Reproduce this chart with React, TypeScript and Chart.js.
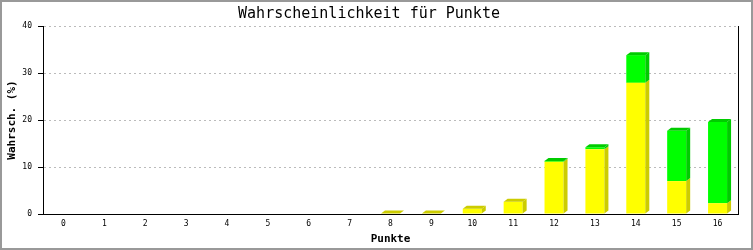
import React, { useEffect, useRef } from "react";
import { Chart, registerables } from "chart.js";

Chart.register(...registerables);

const categories = ["0", "1", "2", "3", "4", "5", "6", "7", "8", "9", "10", "11", "12", "13", "14", "15", "16"];
const yellowValues = [0, 0, 0, 0, 0, 0, 0, 0, 0.1, 0.1, 1.1, 2.6, 11.1, 13.8, 27.9, 7.0, 2.3];
const greenValues = [0, 0, 0, 0, 0, 0, 0, 0, 0, 0, 0, 0, 0.2, 0.4, 5.9, 10.7, 17.3];
const seriesLabels = ["Serie 1", "Serie 2"];
const yMin = 0;
const yMax = 40;
const yStep = 10;

const chartTitle = "Wahrscheinlichkeit für Punkte";
const xTitle = "Punkte";
const yTitle = "Wahrsch. (%)";

const MONO = "'DejaVu Sans Mono', 'Liberation Mono', monospace";

const frontColors = ["#ffff00", "#00ff00"];
const sideColors = ["#cccc00", "#00cc00"];

const depthPlugin = {
  id: "depth3d",
  afterDatasetsDraw(chart: any) {
    const ctx = chart.ctx;
    const dx = 4;
    const dy = 3;
    const metas = chart.data.datasets.map((_: any, k: number) => chart.getDatasetMeta(k));
    const n = chart.data.labels.length;
    ctx.save();
    for (let i = 0; i < n; i++) {
      const vals = chart.data.datasets.map((d: any) => Number(d.data[i]) || 0);
      const total = vals.reduce((a: number, b: number) => a + b, 0);
      if (total <= 0) continue;
      let topIdx = -1;
      metas.forEach((meta: any, k: number) => {
        if (!vals[k]) return;
        const el = meta.data[i];
        const { x, y, base, width } = el.getProps(["x", "y", "base", "width"], true);
        const right = x + width / 2;
        ctx.fillStyle = sideColors[k];
        ctx.beginPath();
        ctx.moveTo(right, base);
        ctx.lineTo(right + dx, base - dy);
        ctx.lineTo(right + dx, y - dy);
        ctx.lineTo(right, y);
        ctx.closePath();
        ctx.fill();
        topIdx = k;
      });
      if (topIdx >= 0) {
        const el = metas[topIdx].data[i];
        const { x, y, width } = el.getProps(["x", "y", "width"], true);
        const left = x - width / 2;
        const right = x + width / 2;
        ctx.fillStyle = sideColors[topIdx];
        ctx.beginPath();
        ctx.moveTo(left, y);
        ctx.lineTo(left + dx, y - dy);
        ctx.lineTo(right + dx, y - dy);
        ctx.lineTo(right, y);
        ctx.closePath();
        ctx.fill();
      }
    }
    ctx.restore();
  },
};

const framePlugin = {
  id: "frame",
  beforeDraw(chart: any) {
    const ctx = chart.ctx;
    ctx.save();
    ctx.fillStyle = "#ffffff";
    ctx.fillRect(0, 0, chart.width, chart.height);
    ctx.restore();
  },
  afterDraw(chart: any) {
    const ctx = chart.ctx;
    const a = chart.chartArea;
    ctx.save();
    ctx.strokeStyle = "#000000";
    ctx.lineWidth = 1;
    ctx.beginPath();
    ctx.moveTo(Math.round(a.right) + 0.5, a.top);
    ctx.lineTo(Math.round(a.right) + 0.5, a.bottom);
    ctx.stroke();
    ctx.strokeStyle = "#999999";
    ctx.lineWidth = 2;
    ctx.strokeRect(1, 1, chart.width - 2, chart.height - 2);
    ctx.restore();
  },
};

export default function App() {
  const canvasRef = useRef<HTMLCanvasElement | null>(null);

  useEffect(() => {
    const canvas = canvasRef.current;
    if (!canvas) return;
    const chart = new Chart(canvas, {
      type: "bar",
      data: {
        labels: categories,
        datasets: [
          {
            label: seriesLabels[0],
            data: yellowValues,
            backgroundColor: frontColors[0],
            borderWidth: 0,
            barPercentage: 0.465,
            categoryPercentage: 1,
          },
          {
            label: seriesLabels[1],
            data: greenValues,
            backgroundColor: frontColors[1],
            borderWidth: 0,
            barPercentage: 0.465,
            categoryPercentage: 1,
          },
        ],
      },
      options: {
        responsive: false,
        animation: false,
        devicePixelRatio: 1,
        layout: { padding: { left: 0, right: 15, top: 0, bottom: 0 } },
        plugins: {
          legend: { display: false },
          tooltip: { enabled: false },
          title: {
            display: true,
            text: chartTitle,
            color: "#000000",
            font: { family: MONO, size: 15, weight: "normal" },
            padding: { top: 5, bottom: 3 },
          },
        },
        scales: {
          x: {
            stacked: true,
            grid: { display: false, drawTicks: false },
            border: { display: true, color: "#000000", width: 1 },
            ticks: { color: "#000000", font: { family: MONO, size: 8 }, padding: 5 },
            title: {
              display: true,
              text: xTitle,
              color: "#000000",
              font: { family: MONO, size: 11, weight: "bold" },
              padding: { top: 0, bottom: 4.4 },
            },
            afterFit: (s: any) => {
              s.height = 36;
            },
          },
          y: {
            stacked: true,
            min: yMin,
            max: yMax,
            ticks: {
              stepSize: yStep,
              color: "#000000",
              font: { family: MONO, size: 8 },
              padding: 6,
            },
            grid: {
              color: (c: any) => (c.tick && c.tick.value === 0 ? "rgba(0,0,0,0)" : "#bbbbbb"),
              tickColor: "#000000",
              tickLength: 5,
              drawTicks: true,
              lineWidth: 1,
            },
            border: { display: true, color: "#000000", width: 1, dash: [2, 3] },
            title: {
              display: true,
              text: yTitle,
              color: "#000000",
              font: { family: MONO, size: 11, weight: "bold" },
              padding: { top: 5.4, bottom: 0 },
            },
            afterFit: (s: any) => {
              s.width = 43;
            },
          },
        },
      },
      plugins: [framePlugin, depthPlugin],
    } as any);
    return () => chart.destroy();
  }, []);

  return (
    <div style={{ position: "absolute", left: 0, top: 0, width: 753, height: 250, background: "#ffffff" }}>
      <canvas ref={canvasRef} width={753} height={250} style={{ display: "block", width: 753, height: 250 }} />
    </div>
  );
}
